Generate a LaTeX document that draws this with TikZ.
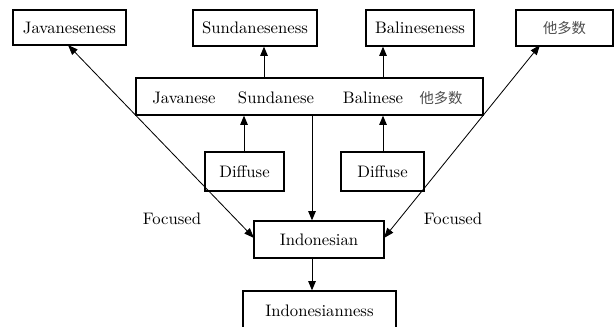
\documentclass[tikz,border=0pt]{standalone}
\usepackage{fontspec}
\newfontfamily\cjk{Noto Sans CJK SC}
\usetikzlibrary{arrows.meta}
\tikzset{
  bx/.style={draw, line width=0.8pt, inner sep=0pt, font=\fontsize{10}{12}\selectfont},
  lbl/.style={inner sep=0pt, font=\fontsize{10}{12}\selectfont},
  cj/.style={text=black!70, font=\fontsize{8.6}{10}\cjk},
  arr/.style={line width=0.6pt, -{Triangle[width=4.5pt,length=5.5pt]}},
  darr/.style={line width=0.5pt, {Triangle[width=4.5pt,length=6pt]}-{Triangle[width=4.5pt,length=6pt]}},
}
\begin{document}
\begin{tikzpicture}[x=0.6pt,y=-0.6pt]
\useasboundingbox (0,0) rectangle (616,326);
\clip (0,0) rectangle (616,326);
\node[bx, minimum width=113*0.6pt, minimum height=35*0.6pt] (jav) at (69.5,27.5) {Javaneseness};
\node[bx, minimum width=124*0.6pt, minimum height=36*0.6pt] (sun) at (255,28) {Sundaneseness};
\node[bx, minimum width=108*0.6pt, minimum height=36*0.6pt] (bal) at (420,28) {Balineseness};
\node[bx, cj, minimum width=97*0.6pt, minimum height=36*0.6pt] (oth) at (564.5,28) {他多数};
\node[bx, minimum width=347*0.6pt, minimum height=37*0.6pt] (mid) at (309.5,96.5) {};
\node[lbl] (mjav) at (184,98) {Javanese};
\node[lbl] (msun) at (276,98) {Sundanese};
\node[lbl] (mbal) at (373,98) {Balinese};
\node[lbl, cj] (moth) at (441,98) {他多数};
\node[bx, minimum width=79*0.6pt, minimum height=39*0.6pt] (difl) at (244.5,171.5) {Diffuse};
\node[bx, minimum width=83*0.6pt, minimum height=39*0.6pt] (difr) at (382.5,171.5) {Diffuse};
\node[bx, minimum width=130*0.6pt, minimum height=37*0.6pt] (ind) at (319,239.5) {Indonesian};
\node[bx, minimum width=153*0.6pt, minimum height=40*0.6pt] (indn) at (319.5,311) {};
\node[lbl] (indnt) at (319.5,311) {Indonesianness};
\node[lbl] (focl) at (172,219) {Focused};
\node[lbl] (focr) at (453,219) {Focused};
\coordinate (xs) at (264,0);
\coordinate (xb) at (383,0);
\coordinate (xl) at (244,0);
\coordinate (xd) at (312,0);
\draw[arr] (mid.north -| xs) -- (sun.south -| xs);
\draw[arr] (mid.north -| xb) -- (bal.south -| xb);
\draw[arr] (difl.north -| xl) -- (mid.south -| xl);
\draw[arr] (difr.north -| xb) -- (mid.south -| xb);
\draw[arr] (mid.south -| xd) -- (ind.north -| xd);
\draw[arr] (ind.south -| xd) -- (indn.north -| xd);
\coordinate (jb) at (68,45);
\coordinate (ob) at (540,45);
\coordinate (il) at (254,238);
\coordinate (ir) at (384,238);
\draw[darr] (jb) -- (il);
\draw[darr] (ob) -- (ir);
\end{tikzpicture}
\end{document}
